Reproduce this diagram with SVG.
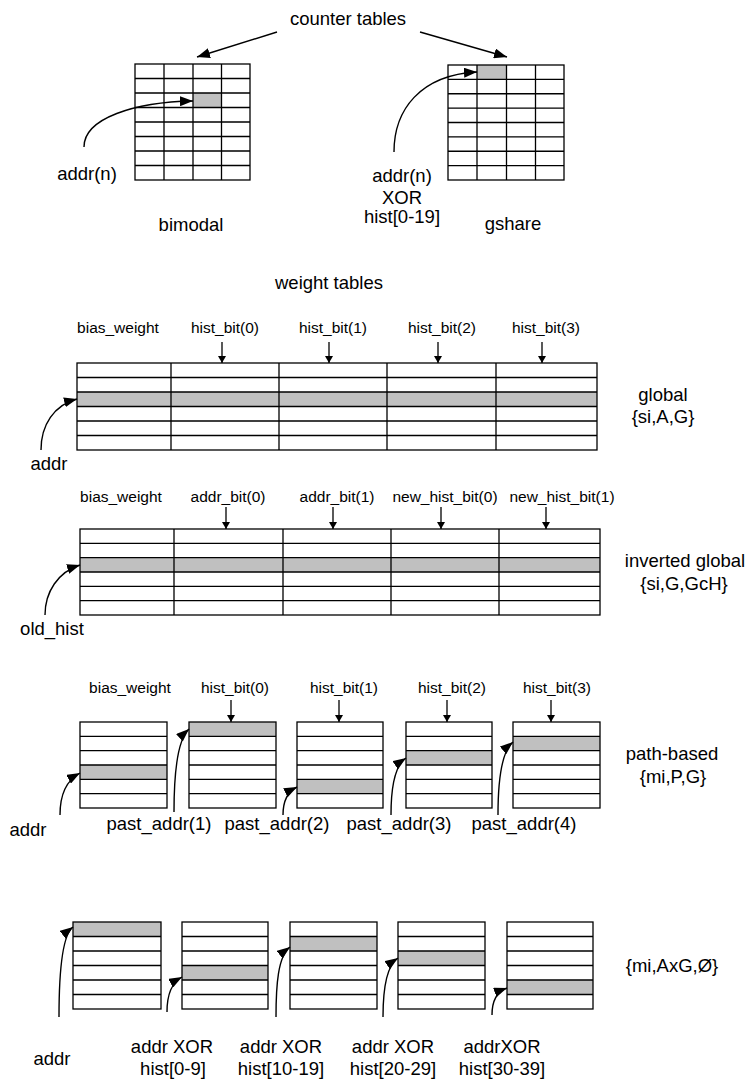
<svg xmlns="http://www.w3.org/2000/svg" width="748" height="1080" viewBox="0 0 748 1080">
<style>
.g{fill:#c0c0c0;stroke:none}
.b{fill:none;stroke:#000;stroke-width:1.3}
.t{font-family:"Liberation Sans",Arial,sans-serif;font-size:18.5px;fill:#000;text-anchor:middle}
.s{font-family:"Liberation Sans",Arial,sans-serif;font-size:15.5px;fill:#000;text-anchor:middle}
.c{fill:none;stroke:#000;stroke-width:1.4;marker-end:url(#big)}
.d{fill:none;stroke:#000;stroke-width:1.3;marker-end:url(#sm)}
</style>
<defs>
<marker id="big" markerUnits="userSpaceOnUse" markerWidth="14" markerHeight="10" refX="13" refY="5" orient="auto"><path d="M0,0 L13,5 L0,10 z" fill="#000"/></marker>
<marker id="sm" markerUnits="userSpaceOnUse" markerWidth="8" markerHeight="8" refX="7" refY="4" orient="auto"><path d="M0,0 L7,4 L0,8 z" fill="#000"/></marker>
</defs>
<rect width="748" height="1080" fill="#fff"/>

<!-- counter tables -->
<g id="bimodal">
<rect class="g" x="193" y="93" width="28.5" height="14.5"/>
<rect class="b" x="135" y="64" width="115" height="116"/>
<path class="b" d="M164,64V180M193,64V180M221.5,64V180M135,78.5H250M135,93H250M135,107.5H250M135,122H250M135,136.5H250M135,151H250M135,165.5H250"/>
</g>
<g id="gshare">
<rect class="g" x="477" y="65" width="29.5" height="14.4"/>
<rect class="b" x="448" y="65" width="116" height="115"/>
<path class="b" d="M477,65V180M506.5,65V180M535.5,65V180M448,79.4H564M448,93.75H564M448,108.1H564M448,122.5H564M448,136.9H564M448,151.25H564M448,165.6H564"/>
</g>

<!-- global -->
<g id="global">
<rect class="g" x="77" y="392" width="520" height="14.5"/>
<rect class="b" x="77" y="363" width="520" height="87"/>
<path class="b" d="M171,363V450M279,363V450M387,363V450M496,363V450M77,377.5H597M77,392H597M77,406.5H597M77,421H597M77,435.5H597"/>
</g>

<!-- inverted global -->
<g id="inverted">
<rect class="g" x="80" y="557.7" width="520" height="14.3"/>
<rect class="b" x="80" y="529" width="520" height="86"/>
<path class="b" d="M174,529V615M283,529V615M391,529V615M499,529V615M80,543.3H600M80,557.7H600M80,572H600M80,586.3H600M80,600.7H600"/>
</g>

<!-- path-based -->
<g id="path1">
<rect class="g" x="80" y="765" width="87" height="14.3"/>
<rect class="b" x="80" y="722" width="87" height="86"/>
<path class="b" d="M80,736.3H167M80,750.7H167M80,765H167M80,779.3H167M80,793.7H167"/>
</g>
<g id="path2">
<rect class="g" x="189" y="722" width="87" height="14.3"/>
<rect class="b" x="189" y="722" width="87" height="86"/>
<path class="b" d="M189,736.3H276M189,750.7H276M189,765H276M189,779.3H276M189,793.7H276"/>
</g>
<g id="path3">
<rect class="g" x="297" y="779.3" width="86" height="14.4"/>
<rect class="b" x="297" y="722" width="86" height="86"/>
<path class="b" d="M297,736.3H383M297,750.7H383M297,765H383M297,779.3H383M297,793.7H383"/>
</g>
<g id="path4">
<rect class="g" x="406" y="750.7" width="86" height="14.3"/>
<rect class="b" x="406" y="722" width="86" height="86"/>
<path class="b" d="M406,736.3H492M406,750.7H492M406,765H492M406,779.3H492M406,793.7H492"/>
</g>
<g id="path5">
<rect class="g" x="513" y="736.3" width="87" height="14.4"/>
<rect class="b" x="513" y="722" width="87" height="86"/>
<path class="b" d="M513,736.3H600M513,750.7H600M513,765H600M513,779.3H600M513,793.7H600"/>
</g>

<!-- mi,AxG -->
<g id="x1">
<rect class="g" x="73" y="922" width="88" height="14.5"/>
<rect class="b" x="73" y="922" width="88" height="87"/>
<path class="b" d="M73,936.5H161M73,951H161M73,965.5H161M73,980H161M73,994.5H161"/>
</g>
<g id="x2">
<rect class="g" x="182" y="965.5" width="86" height="14.5"/>
<rect class="b" x="182" y="922" width="86" height="87"/>
<path class="b" d="M182,936.5H268M182,951H268M182,965.5H268M182,980H268M182,994.5H268"/>
</g>
<g id="x3">
<rect class="g" x="290" y="936.5" width="87" height="14.5"/>
<rect class="b" x="290" y="922" width="87" height="87"/>
<path class="b" d="M290,936.5H377M290,951H377M290,965.5H377M290,980H377M290,994.5H377"/>
</g>
<g id="x4">
<rect class="g" x="398" y="951" width="87" height="14.5"/>
<rect class="b" x="398" y="922" width="87" height="87"/>
<path class="b" d="M398,936.5H485M398,951H485M398,965.5H485M398,980H485M398,994.5H485"/>
</g>
<g id="x5">
<rect class="g" x="507" y="980" width="86" height="14.5"/>
<rect class="b" x="507" y="922" width="86" height="87"/>
<path class="b" d="M507,936.5H593M507,951H593M507,965.5H593M507,980H593M507,994.5H593"/>
</g>

<!-- connectors -->
<g id="connectors">
<path class="c" d="M277,32L197,57"/>
<path class="c" d="M420,32L507,57"/>
<path class="c" d="M84,147C84,118 135,102 193,101"/>
<path class="c" d="M394,152C394,110 420,75 477,72"/>
<path class="c" d="M41,450C41,425 54,405 77,399"/>
<path class="c" d="M45,615C45,592 58,572 80,565"/>
<path class="c" d="M60,815C60,795 67,780 80,773"/>
<path class="c" d="M174,812C174,778 177,740 189,729"/>
<path class="c" d="M283,815C283,801 287,792 297,787"/>
<path class="c" d="M391,815C391,790 394,766 406,758"/>
<path class="c" d="M498,815C498,782 501,752 513,742"/>
<path class="c" d="M59,1017C59,980 61,936 73,927"/>
<path class="c" d="M167,1012C167,996 171,983 182,977"/>
<path class="c" d="M276,1017C276,985 278,956 290,947"/>
<path class="c" d="M383,1017C383,990 386,966 398,958"/>
<path class="c" d="M492,1015C492,1001 496,992 507,988"/>
<path class="d" d="M222,342V363"/>
<path class="d" d="M329,342V363"/>
<path class="d" d="M438,342V363"/>
<path class="d" d="M542,342V363"/>
<path class="d" d="M226,507V529"/>
<path class="d" d="M333,507V529"/>
<path class="d" d="M441,507V529"/>
<path class="d" d="M546,507V529"/>
<path class="d" d="M231,700V722"/>
<path class="d" d="M339,700V722"/>
<path class="d" d="M447,700V722"/>
<path class="d" d="M551,700V722"/>
</g>

<!-- texts -->
<g id="labels">
<text class="t" x="348" y="25">counter tables</text>
<text class="t" x="87" y="180">addr(n)</text>
<text class="t" x="402" y="182">addr(n)</text>
<text class="t" x="402" y="204">XOR</text>
<text class="t" x="402" y="223">hist[0-19]</text>
<text class="t" x="191" y="231">bimodal</text>
<text class="t" x="513" y="230">gshare</text>
<text class="t" x="329" y="289">weight tables</text>

<text class="s" x="118" y="333">bias_weight</text>
<text class="s" x="225" y="333">hist_bit(0)</text>
<text class="s" x="333" y="333">hist_bit(1)</text>
<text class="s" x="442" y="333">hist_bit(2)</text>
<text class="s" x="546" y="333">hist_bit(3)</text>
<text class="t" x="663" y="401">global</text>
<text class="t" x="663" y="423">{si,A,G}</text>
<text class="t" x="49" y="470">addr</text>

<text class="s" x="121" y="502">bias_weight</text>
<text class="s" x="228" y="502">addr_bit(0)</text>
<text class="s" x="337" y="502">addr_bit(1)</text>
<text class="s" x="445" y="502">new_hist_bit(0)</text>
<text class="s" x="562" y="502">new_hist_bit(1)</text>
<text class="t" x="685" y="567">inverted global</text>
<text class="t" x="684" y="590">{si,G,GcH}</text>
<text class="t" x="52" y="635">old_hist</text>

<text class="s" x="130" y="693">bias_weight</text>
<text class="s" x="235" y="693">hist_bit(0)</text>
<text class="s" x="344" y="693">hist_bit(1)</text>
<text class="s" x="452" y="693">hist_bit(2)</text>
<text class="s" x="557" y="693">hist_bit(3)</text>
<text class="t" x="672" y="760">path-based</text>
<text class="t" x="673" y="783">{mi,P,G}</text>
<text class="t" x="28" y="836">addr</text>
<text class="t" x="159" y="830">past_addr(1)</text>
<text class="t" x="277" y="830">past_addr(2)</text>
<text class="t" x="399" y="830">past_addr(3)</text>
<text class="t" x="524" y="830">past_addr(4)</text>

<text class="t" x="672" y="972">{mi,AxG,Ø}</text>
<text class="t" x="52" y="1065">addr</text>
<text class="t" x="172" y="1053">addr XOR</text>
<text class="t" x="173" y="1075">hist[0-9]</text>
<text class="t" x="281" y="1053">addr XOR</text>
<text class="t" x="281" y="1075">hist[10-19]</text>
<text class="t" x="393" y="1053">addr XOR</text>
<text class="t" x="393" y="1075">hist[20-29]</text>
<text class="t" x="502" y="1053">addrXOR</text>
<text class="t" x="502" y="1075">hist[30-39]</text>
</g>
</svg>
